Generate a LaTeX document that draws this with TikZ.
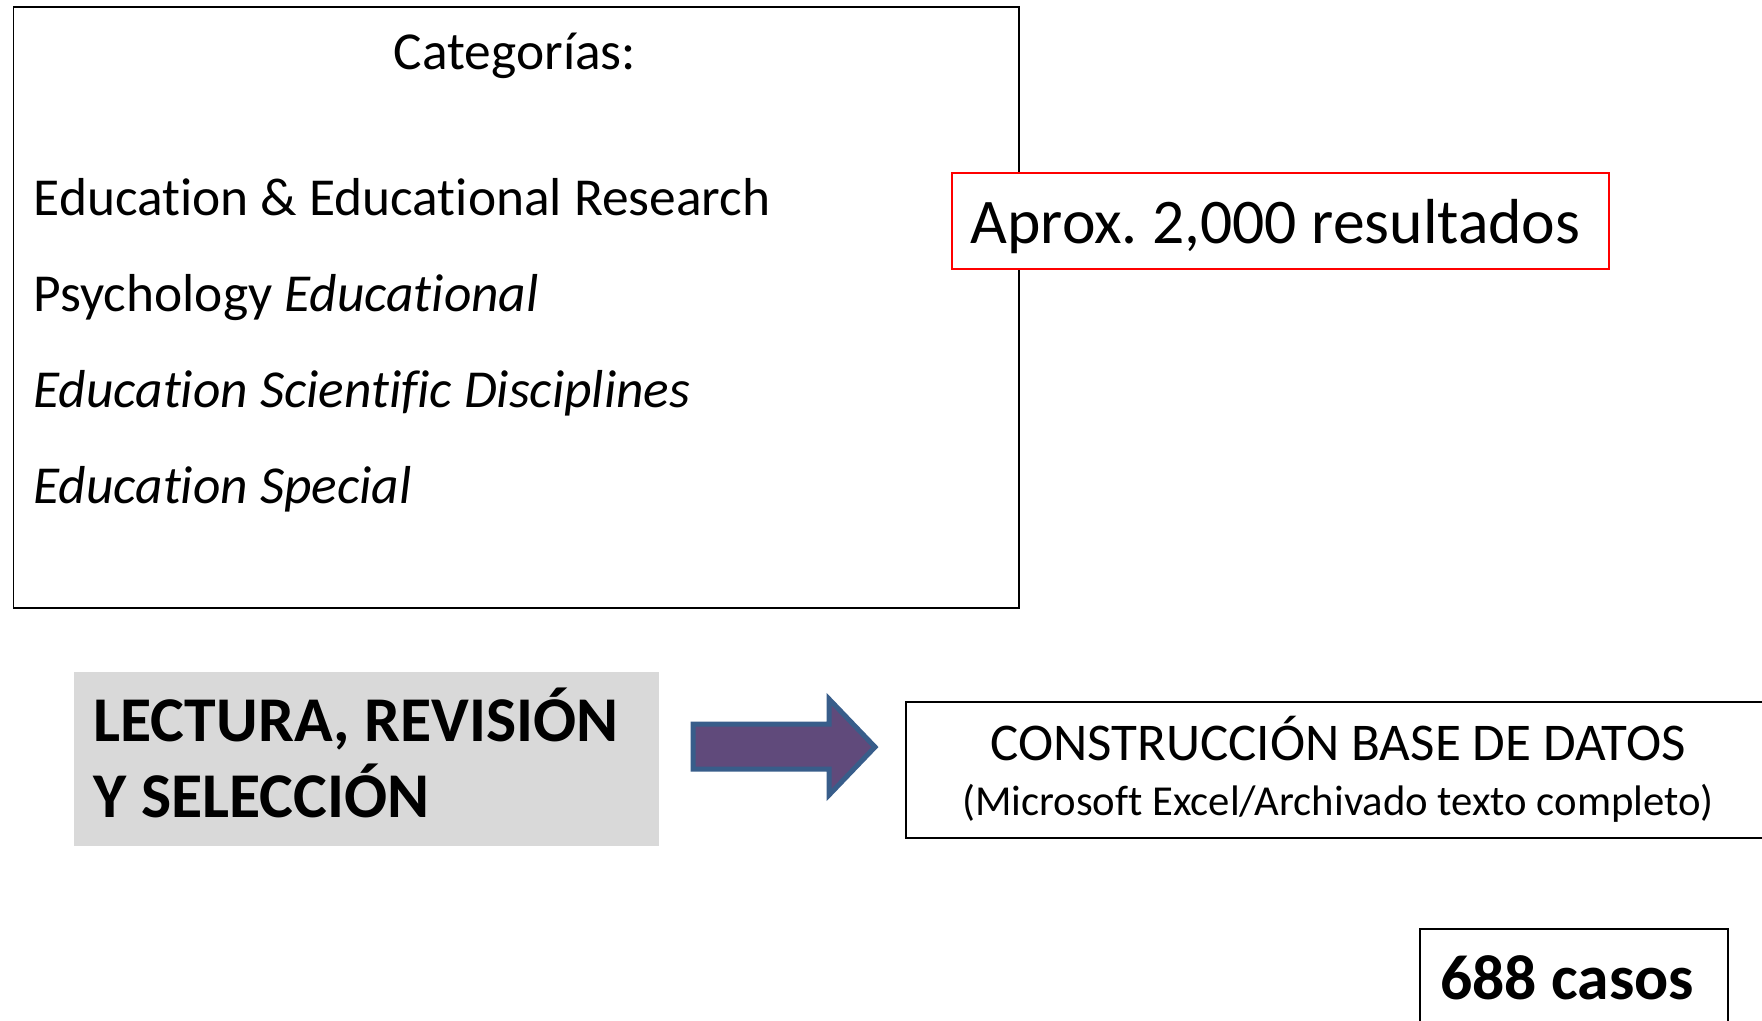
\documentclass[tikz,border=0pt]{standalone}
\usepackage{fontspec}
\setmainfont[Ligatures=NoCommon]{Carlito}
\frenchspacing

\definecolor{flechaazul}{HTML}{385D8A}
\definecolor{flechamorado}{HTML}{604A7B}
\definecolor{grisclaro}{HTML}{D9D9D9}

\begin{document}
\begin{tikzpicture}[x=0.1mm,y=-0.1mm,
    caja/.style={draw, line width=0.16mm, inner sep=0, anchor=north west},
    texto/.style={inner sep=0, anchor=base west}]
\useasboundingbox (0,0) rectangle (1762,1020);

% Draw the boxes
\node[caja, minimum width=100.55mm, minimum height=60.1mm] (categorias) at (12.5,6) {};
\node[caja, draw=red, fill=white, minimum width=65.7mm, minimum height=9.6mm] (resultados) at (951,172) {};
\node[caja, draw=none, fill=grisclaro, minimum width=58.5mm, minimum height=17.4mm] (lectura) at (73,671) {};
\node[caja, minimum width=87mm, minimum height=13.6mm] (basedatos) at (905,701) {};
\node[caja, minimum width=30.8mm, minimum height=10.2mm] (casos) at (1419,928) {};

% Draw the arrow
\filldraw[fill=flechamorado, draw=flechaazul, line width=0.5mm, line join=miter]
    (693,724) -- (829,724) -- (829,699) -- (875,747) -- (829,795) -- (829,769) -- (693,769) -- cycle;

% Write the texts
\node[inner sep=0, anchor=base, font=\fontsize{15.2}{18}\selectfont] (titulo) at (515,69) {Categorías:};
\foreach \i/\t in {0/{Education \& Educational Research},
                   1/{Psychology \textit{Educational}},
                   2/{\textit{Education Scientific Disciplines}},
                   3/{\textit{Education Special}}}{
    \node[texto, font=\fontsize{15.2}{18}\selectfont] (linea\i) at (33,215+96*\i) {\t};
}
\node[texto, font=\fontsize{18.1}{22}\selectfont] (aprox) at (970,243) {Aprox. 2,000 resultados};
\node[texto, font=\fontsize{18.15}{22}\selectfont\bfseries] (lect1) at (93,741) {LECTURA, REVISIÓN};
\node[texto, font=\fontsize{18.15}{22}\selectfont\bfseries] (lect2) at (93,817) {Y SELECCIÓN};
\node[inner sep=0, anchor=base, font=\fontsize{15.1}{18}\selectfont] (constr) at (1338,760) {CONSTRUCCIÓN BASE DE DATOS};
\node[inner sep=0, anchor=base, font=\fontsize{12.15}{15}\selectfont] (excel) at (1338,815) {(Microsoft Excel/Archivado texto completo)};
\node[texto, font=\fontsize{18.1}{22}\selectfont\bfseries] (numcasos) at (1439.5,999) {688 casos};

\end{tikzpicture}
\end{document}
